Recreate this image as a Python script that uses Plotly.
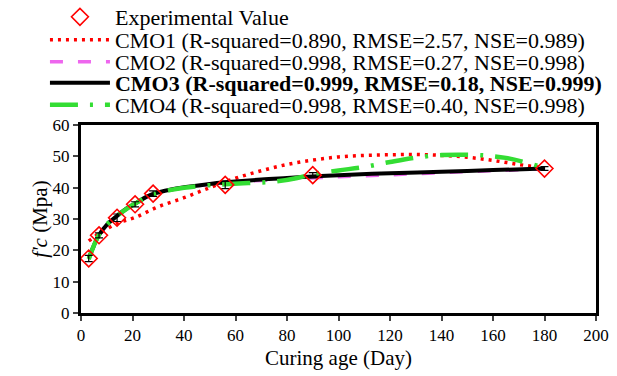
import plotly.graph_objects as go

# Experimental data
exp_days = [3, 7, 14, 21, 28, 56, 90, 180]
exp_fc = [17.4, 24.8, 30.4, 34.7, 38.1, 40.9, 44.0, 46.1]
exp_err = [1.0, 0.8, 1.2, 0.8, 0.9, 1.2, 0.8, 0.6]

# Model curves
cmo1_days = [3, 7, 14, 21, 30, 40, 50, 60, 70, 80, 90, 100, 110, 120, 130, 140, 150, 160, 170, 180]
cmo1_fc = [23.0, 25.3, 28.6, 30.5, 33.9, 36.8, 40.0, 43.0, 45.4, 47.4, 48.8, 49.8, 50.3, 50.5, 50.6, 50.3, 49.7, 48.7, 47.4, 46.3]

cmo2_days = [3, 5, 7, 10, 14, 18, 21, 25, 28, 35, 40, 50, 56, 70, 80, 90, 100, 120, 140, 160, 180]
cmo2_fc = [17.4, 21.4, 24.8, 28.0, 30.9, 33.4, 34.8, 36.8, 37.9, 39.3, 40.0, 41.1, 41.6, 42.3, 42.7, 43.1, 43.5, 44.1, 44.8, 45.4, 46.0]

cmo3_days = [3, 5, 7, 10, 14, 18, 21, 25, 28, 35, 40, 50, 56, 70, 80, 90, 100, 120, 140, 160, 180]
cmo3_fc = [17.4, 21.5, 24.9, 28.1, 31.0, 33.5, 34.9, 36.9, 38.0, 39.4, 40.1, 41.2, 41.7, 42.6, 43.1, 43.6, 44.0, 44.6, 45.1, 45.6, 46.1]

cmo4_days = [3, 5, 7, 10, 14, 18, 21, 25, 28, 35, 40, 50, 56, 65, 75, 84, 90, 100, 110, 120, 130, 140, 150, 158, 165, 172, 178, 180]
cmo4_fc = [17.2, 21.5, 25.0, 28.2, 31.0, 33.4, 34.9, 36.8, 37.9, 39.3, 40.0, 40.8, 41.1, 41.5, 41.9, 43.1, 44.3, 45.5, 46.6, 48.2, 49.6, 50.4, 50.5, 50.2, 49.5, 48.2, 46.8, 46.2]

names = [
    "Experimental Value",
    "CMO1 (R-squared=0.890, RMSE=2.57, NSE=0.989)",
    "CMO2 (R-squared=0.998, RMSE=0.27, NSE=0.998)",
    "<b>CMO3 (R-squared=0.999, RMSE=0.18, NSE=0.999)</b>",
    "CMO4 (R-squared=0.998, RMSE=0.40, NSE=0.998)",
]

x_ticks = [0, 20, 40, 60, 80, 100, 120, 140, 160, 180, 200]
y_ticks = [0, 10, 20, 30, 40, 50, 60]

FONT = "Liberation Serif, Times New Roman, serif"
fig = go.Figure()

fig.add_trace(go.Scatter(x=cmo1_days, y=cmo1_fc, mode="lines", name=names[1], line_shape="spline",
                         line=dict(color="#FF0000", width=3.5, dash="3px,5px"), legend="legend2"))
fig.add_trace(go.Scatter(x=cmo2_days, y=cmo2_fc, mode="lines", name=names[2], line_shape="spline",
                         line=dict(color="#EE66EE", width=3.5, dash="13px,15px"), legend="legend3"))
fig.add_trace(go.Scatter(x=cmo3_days, y=cmo3_fc, mode="lines", name=names[3], line_shape="spline",
                         line=dict(color="#000000", width=4), legend="legend4"))
fig.add_trace(go.Scatter(x=cmo4_days, y=cmo4_fc, mode="lines", name=names[4], line_shape="spline",
                         line=dict(color="#33DD33", width=4.5, dash="28px,12px,3px,12px"), legend="legend5"))
fig.add_trace(go.Scatter(x=exp_days, y=exp_fc, mode="markers", name=names[0],
                         marker=dict(symbol="diamond-open", size=13, color="#FF0000", line=dict(width=1.6)),
                         error_y=dict(type="data", array=exp_err, color="black", thickness=1.2, width=4),
                         legend="legend"))

plot_top, plot_bottom = 125, 313
ph = plot_bottom - plot_top
def ly(px):
    return (plot_bottom - px) / ph

leg_common = dict(xanchor="left", yanchor="middle", bgcolor="rgba(0,0,0,0)",
                  font=dict(family=FONT, size=22, color="black"), x=-0.07,
                  itemwidth=60)
row_px = [17, 40, 62, 83, 105]
layout_legends = {}
for i, key in enumerate(["legend", "legend2", "legend3", "legend4", "legend5"]):
    layout_legends[key] = dict(leg_common, y=ly(row_px[i]))

fig.update_layout(
    width=617, height=376,
    margin=dict(l=81, r=21, t=plot_top, b=376 - plot_bottom, autoexpand=False),
    paper_bgcolor="white", plot_bgcolor="white",
    font=dict(family=FONT, size=17, color="black"),
    showlegend=True,
    **layout_legends,
)
fig.update_xaxes(range=[0, 200], tickvals=x_ticks, ticks="outside", ticklen=5, tickwidth=1.5,
                 showline=True, linewidth=3, linecolor="black", mirror=True, showgrid=False, zeroline=False,
                 title=dict(text="Curing age (Day)", font=dict(size=21), standoff=6),
                 tickfont=dict(size=17))
fig.update_yaxes(range=[0, 60], tickvals=y_ticks, ticks="outside", ticklen=5, tickwidth=1.5,
                 showline=True, linewidth=3, linecolor="black", mirror=True, showgrid=False, zeroline=False,
                 title=dict(text="<i>f'c</i> (Mpa)", font=dict(size=21), standoff=0),
                 tickfont=dict(size=17))

fig.write_html("out.html")
